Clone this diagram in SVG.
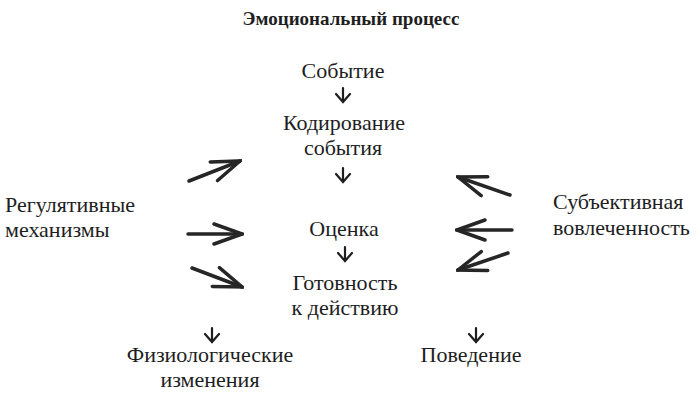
<svg xmlns="http://www.w3.org/2000/svg" width="700" height="406" viewBox="0 0 700 406">
<defs>
<style>
text{font-family:"Liberation Serif","Times New Roman",serif;fill:#1e1e1e;font-size:22px;text-anchor:middle}
.title{font-weight:bold;font-size:19px}
.l{text-anchor:start}
.big{stroke:#262626;stroke-width:3.5;fill:none;stroke-linecap:round;stroke-linejoin:round}
.small{stroke:#1e1e1e;stroke-width:2.2;fill:none;stroke-linecap:round;stroke-linejoin:miter}
</style>
<marker id="vh" viewBox="0 0 32 24" refX="30" refY="12" markerWidth="32" markerHeight="24" markerUnits="userSpaceOnUse" orient="auto">
<path d="M2,2 L30,12 L2,22" fill="none" stroke="#262626" stroke-width="3.5" stroke-linejoin="miter" stroke-linecap="round"/>
</marker>
</defs>
<rect width="700" height="406" fill="#fff"/>
<text class="title" x="351" y="25">Эмоциональный процесс</text>
<g id="event"><text x="343" y="78">Событие</text></g>
<g id="encoding"><text x="344" y="130">Кодирование</text><text x="343" y="155">события</text></g>
<g id="appraisal"><text x="344" y="236">Оценка</text></g>
<g id="readiness"><text x="345" y="290">Готовность</text><text x="345" y="315">к действию</text></g>
<g id="regulation"><text class="l" x="5" y="212">Регулятивные</text><text class="l" x="5" y="237">механизмы</text></g>
<g id="involvement"><text class="l" x="553" y="209">Субъективная</text><text class="l" x="553" y="235">вовлеченность</text></g>
<g id="physiology"><text x="210" y="362">Физиологические</text><text x="210" y="387">изменения</text></g>
<g id="behavior"><text x="471" y="362">Поведение</text></g>
<g id="connectors">
<path class="small" d="M343,88 V102 M336,94 L343,102 L350,94"/>
<path class="small" d="M343,168 V182 M336,174 L343,182 L350,174"/>
<path class="small" d="M345,247 V261 M338,253 L345,261 L352,253"/>
<path class="small" d="M212,328 V342 M205,334 L212,342 L219,334"/>
<path class="small" d="M476,328 V342 M469,334 L476,342 L483,334"/>
<line class="big" x1="189" y1="181" x2="240" y2="161" marker-end="url(#vh)"/>
<line class="big" x1="188" y1="234" x2="242" y2="234" marker-end="url(#vh)"/>
<line class="big" x1="192" y1="268" x2="242" y2="287" marker-end="url(#vh)"/>
<line class="big" x1="510" y1="195" x2="458" y2="177" marker-end="url(#vh)"/>
<line class="big" x1="512" y1="230" x2="457" y2="230" marker-end="url(#vh)"/>
<line class="big" x1="508" y1="253" x2="458" y2="270" marker-end="url(#vh)"/>
</g>
</svg>
